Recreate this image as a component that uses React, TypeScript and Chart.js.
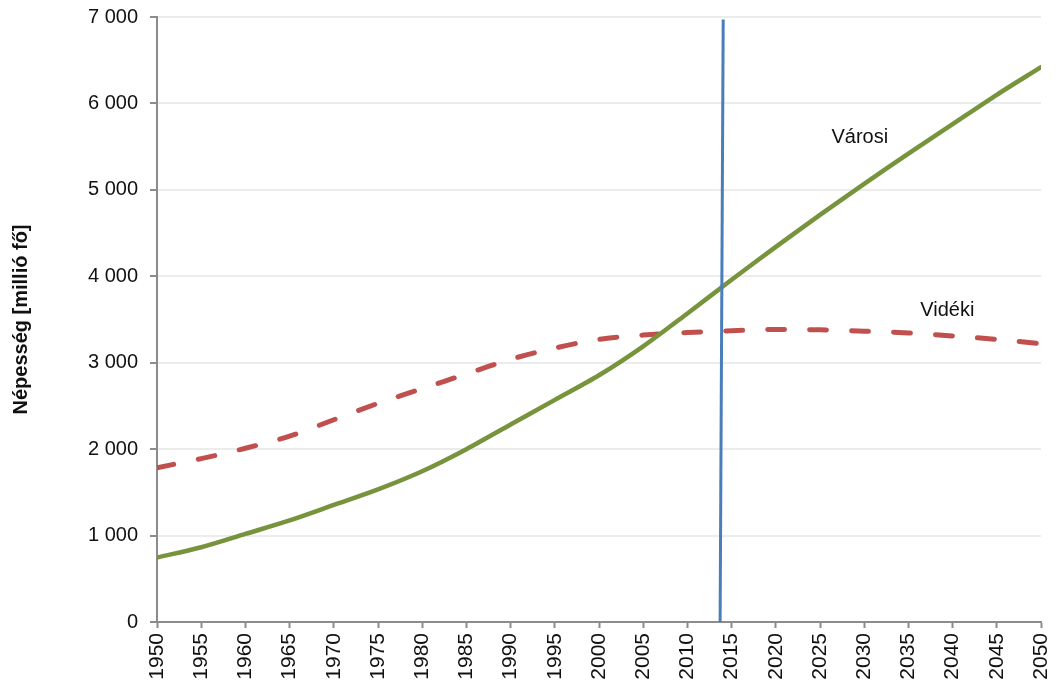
import React, { useEffect, useRef } from "react";
import { Chart, registerables } from "chart.js";

Chart.register(...registerables);

const years = [1950, 1955, 1960, 1965, 1970, 1975, 1980, 1985, 1990, 1995, 2000, 2005, 2010, 2015, 2020, 2025, 2030, 2035, 2040, 2045, 2050];
const urban = [746, 865, 1019, 1175, 1354, 1535, 1745, 2000, 2285, 2570, 2855, 3190, 3570, 3960, 4340, 4710, 5070, 5420, 5760, 6100, 6420];
const rural = [1785, 1890, 2010, 2150, 2340, 2530, 2700, 2870, 3040, 3170, 3270, 3320, 3350, 3370, 3385, 3380, 3365, 3345, 3310, 3270, 3220];
const markerYears = [2013.7, 2014.05];
const markerValues = [0, 6970];
const seriesNames = ["Városi", "Vidéki"];
const labelYears = [2029.5, 2039.4];
const labelValues = [5610, 3600];
const yTitle = "Népesség [millió fő]";

const FONT = "'Liberation Sans', Arial, sans-serif";

const fmt = (v: number) => String(Math.round(v)).replace(/\B(?=(\d{3})+(?!\d))/g, " ");

const textPlugin = {
  id: "seriesText",
  afterDatasetsDraw(chart: any) {
    const { ctx, scales } = chart;
    ctx.save();
    ctx.font = `20px ${FONT}`;
    ctx.fillStyle = "#111";
    ctx.textAlign = "center";
    ctx.textBaseline = "middle";
    seriesNames.forEach((n, i) => {
      ctx.fillText(n, scales.x.getPixelForValue(labelYears[i]), scales.y.getPixelForValue(labelValues[i]));
    });
    ctx.restore();
  },
};

export default function App() {
  const ref = useRef<HTMLCanvasElement>(null);
  useEffect(() => {
    document.body.style.margin = "0";
    const chart = new Chart(ref.current!, {
      type: "line",
      data: {
        datasets: [
          {
            label: "marker",
            data: markerYears.map((x, i) => ({ x, y: markerValues[i] })),
            borderColor: "#4a7ebb",
            borderWidth: 3,
            pointRadius: 0,
          },
          {
            label: seriesNames[0],
            data: years.map((x, i) => ({ x, y: urban[i] })),
            borderColor: "#77933c",
            borderWidth: 4.5,
            pointRadius: 0,
            tension: 0.3,
            borderCapStyle: "round",
          },
          {
            label: seriesNames[1],
            data: years.map((x, i) => ({ x, y: rural[i] })),
            borderColor: "#c0504d",
            borderWidth: 5,
            borderDash: [17, 25],
            borderCapStyle: "round",
            pointRadius: 0,
            tension: 0.3,
          },
        ],
      },
      options: {
        animation: false,
        responsive: false,
        layout: { padding: { top: 17, right: 15, left: 0, bottom: 0 } },
        plugins: { legend: { display: false }, tooltip: { enabled: false } },
        scales: {
          x: {
            type: "linear",
            min: 1950,
            max: 2050,
            afterFit: (s: any) => {
              s.height = 63;
              s.paddingLeft = 0;
              s.paddingRight = 0;
            },
            ticks: {
              stepSize: 5,
              minRotation: 90,
              maxRotation: 90,
              autoSkip: false,
              padding: 5,
              color: "#111",
              font: { family: FONT, size: 21 },
              callback: (v: any) => String(v),
            },
            grid: { drawOnChartArea: false, tickLength: 6, tickColor: "#8c8c8c", tickWidth: 2 },
            border: { color: "#8c8c8c", width: 2 },
          },
          y: {
            min: 0,
            max: 7000,
            afterFit: (s: any) => {
              s.width = 157;
              s.paddingTop = 0;
              s.paddingBottom = 0;
            },
            ticks: {
              stepSize: 1000,
              padding: 12,
              color: "#111",
              font: { family: FONT, size: 20 },
              callback: (v: any) => fmt(Number(v)),
            },
            grid: { color: "#ececec", lineWidth: 2, tickLength: 7, tickColor: "#8c8c8c", tickWidth: 2 },
            border: { color: "#8c8c8c", width: 2 },
            title: {
              display: true,
              text: yTitle,
              color: "#111",
              font: { family: FONT, size: 20, weight: "bold" },
              padding: { top: 9, bottom: 0 },
            },
          },
        },
      },
      plugins: [textPlugin],
    } as any);
    return () => chart.destroy();
  }, []);
  return (
    <div style={{ width: 1056, height: 685 }}>
      <canvas ref={ref} width={1056} height={685} style={{ display: "block" }} />
    </div>
  );
}
